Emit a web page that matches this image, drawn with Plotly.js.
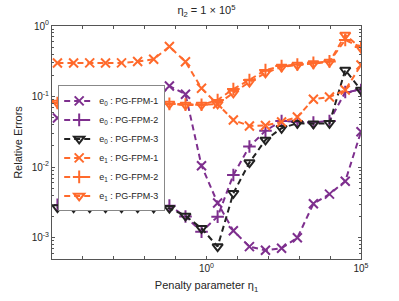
<!DOCTYPE html>
<html><head><meta charset="utf-8">
<script src="https://cdn.plot.ly/plotly-3.0.1.min.js"></script>
<style>html,body{margin:0;padding:0;background:#fff}#c{width:399px;height:301px}</style>
</head><body><div id="c"></div>
<script>
// penalty parameter eta_1 (x positions of the samples)
const eta1 = [1.5e-5, 5.0e-5, 1.66e-4, 5.4e-4, 1.78e-3, 5.9e-3, 1.95e-2, 6.3e-2, 0.209, 0.69,
              2.29, 7.4, 24.5, 81, 269, 871, 2880, 9550, 30900, 100000];
// e0 errors
const e0_fpm1 = [0.0497, 0.0532, 0.0568, 0.0624, 0.0689, 0.0737, 0.0798, 0.1413, 0.1078, 0.0105,
                 0.00311, 0.00126, 0.000749, 0.000665, 0.00071, 0.00100, 0.00303, 0.00415, 0.0063, 0.0318];
const e0_fpm2 = [0.00292, 0.00292, 0.00292, 0.00291, 0.00292, 0.00291, 0.00290, 0.00285, 0.00200, 0.00122,
                 0.00199, 0.00776, 0.0196, 0.0328, 0.0451, 0.0437, 0.0430, 0.0451, 0.116, 0.124];
const e0_fpm3 = [0.00268, 0.00268, 0.00268, 0.00267, 0.00268, 0.00267, 0.00266, 0.00262, 0.00204, 0.00136,
                 0.00075, 0.00427, 0.0116, 0.0243, 0.0356, 0.0419, 0.0412, 0.0419, 0.238, 0.124];
// e1 errors
const e1_fpm1 = [0.299, 0.299, 0.300, 0.299, 0.300, 0.314, 0.338, 0.512, 0.312, 0.131,
                 0.0786, 0.0466, 0.0383, 0.0390, 0.0437, 0.0514, 0.0916, 0.0987, 0.124, 0.280];
const e1_fpm2 = [0.0811, 0.0811, 0.0810, 0.0810, 0.0809, 0.0805, 0.0795, 0.0788, 0.0770, 0.0765,
                 0.0896, 0.128, 0.172, 0.238, 0.271, 0.285, 0.300, 0.315, 0.633, 0.504];
const e1_fpm3 = [0.0811, 0.0811, 0.0810, 0.0810, 0.0809, 0.0805, 0.0795, 0.0788, 0.0761, 0.0761,
                 0.0788, 0.1125, 0.161, 0.216, 0.263, 0.280, 0.294, 0.309, 0.746, 0.488];
const seriesNames = ['e<sub>0</sub> : PG-FPM-1', 'e<sub>0</sub> : PG-FPM-2', 'e<sub>0</sub> : PG-FPM-3',
                     'e<sub>1</sub> : PG-FPM-1', 'e<sub>1</sub> : PG-FPM-2', 'e<sub>1</sub> : PG-FPM-3'];
const xTickVals = [1, 1e5];
const xTickText = ['10<sup>0</sup>', '10<sup>5</sup>'];
const xMinorVals = [1e-5,1e-4,1e-3,1e-2,1e-1,10,100,1e3,1e4];
const yTickVals = [1e-3, 1e-2, 1e-1, 1];
const yTickText = ['10<sup>-3</sup>', '10<sup>-2</sup>', '10<sup>-1</sup>', '10<sup>0</sup>'];
const yMinorVals = [6e-4,7e-4,8e-4,9e-4,
                    2e-3,3e-3,4e-3,5e-3,6e-3,7e-3,8e-3,9e-3,
                    2e-2,3e-2,4e-2,5e-2,6e-2,7e-2,8e-2,9e-2,
                    0.2,0.3,0.4,0.5,0.6,0.7,0.8,0.9];

const purple = '#7E2F8E', orange = '#FF6A2C', black = '#222222';
function tr(y, name, color, symbol) {
  return {x: eta1, y: y, name: name, type: 'scatter', mode: 'lines+markers',
    line: {color: color, width: 2, dash: '6px,4px'},
    marker: {symbol: symbol, size: 9, color: color, line: {color: color, width: 2}}};
}
const data = [
  tr(e0_fpm1, seriesNames[0], purple, 'x-thin-open'),
  tr(e0_fpm2, seriesNames[1], purple, 'cross-thin-open'),
  tr(e0_fpm3, seriesNames[2], black, 'triangle-down-open'),
  tr(e1_fpm1, seriesNames[3], orange, 'x-thin-open'),
  tr(e1_fpm2, seriesNames[4], orange, 'cross-thin-open'),
  tr(e1_fpm3, seriesNames[5], orange, 'triangle-down-open')
];
const axcol = '#555555';
const layout = {
  width: 399, height: 301,
  margin: {l: 52, r: 38, t: 26, b: 42},
  paper_bgcolor: '#fff', plot_bgcolor: '#fff',
  font: {family: 'Liberation Sans, Arial, sans-serif', size: 10, color: '#262626'},
  title: {text: 'η<sub>2</sub> = 1 × 10<sup>5</sup>', x: 0.5175, xanchor: 'center', y: 0.965, yanchor: 'middle',
          font: {size: 11, color: '#262626'}},
  showlegend: true,
  legend: {x: 0.02, y: 0.745, xanchor: 'left', yanchor: 'top', bgcolor: '#fff',
           bordercolor: '#888', borderwidth: 1, font: {size: 9}, tracegroupgap: 0,
           itemwidth: 30},
  xaxis: {type: 'log', range: [-5, 5], tickmode: 'array', tickvals: xTickVals, ticktext: xTickText,
          ticks: 'inside', ticklen: 3, tickcolor: axcol, showgrid: false, zeroline: false,
          showline: true, linecolor: axcol, linewidth: 1, mirror: 'ticks',
          minor: {tickmode: 'array', tickvals: xMinorVals, ticks: 'inside', ticklen: 3, tickcolor: axcol, showgrid: false},
          title: {text: 'Penalty parameter η<sub>1</sub>', font: {size: 11}, standoff: 8}},
  yaxis: {type: 'log', range: [Math.log10(5e-4), 0], tickmode: 'array', tickvals: yTickVals, ticktext: yTickText,
          ticks: 'inside', ticklen: 3, tickcolor: axcol, showgrid: false, zeroline: false,
          showline: true, linecolor: axcol, linewidth: 1, mirror: 'ticks',
          minor: {tickmode: 'array', tickvals: yMinorVals, ticks: 'inside', ticklen: 2, tickcolor: axcol, showgrid: false},
          title: {text: 'Relative Errors', font: {size: 11}, standoff: 6}}
};
Plotly.newPlot('c', data, layout, {displayModeBar: false, staticPlot: true});
</script></body></html>
